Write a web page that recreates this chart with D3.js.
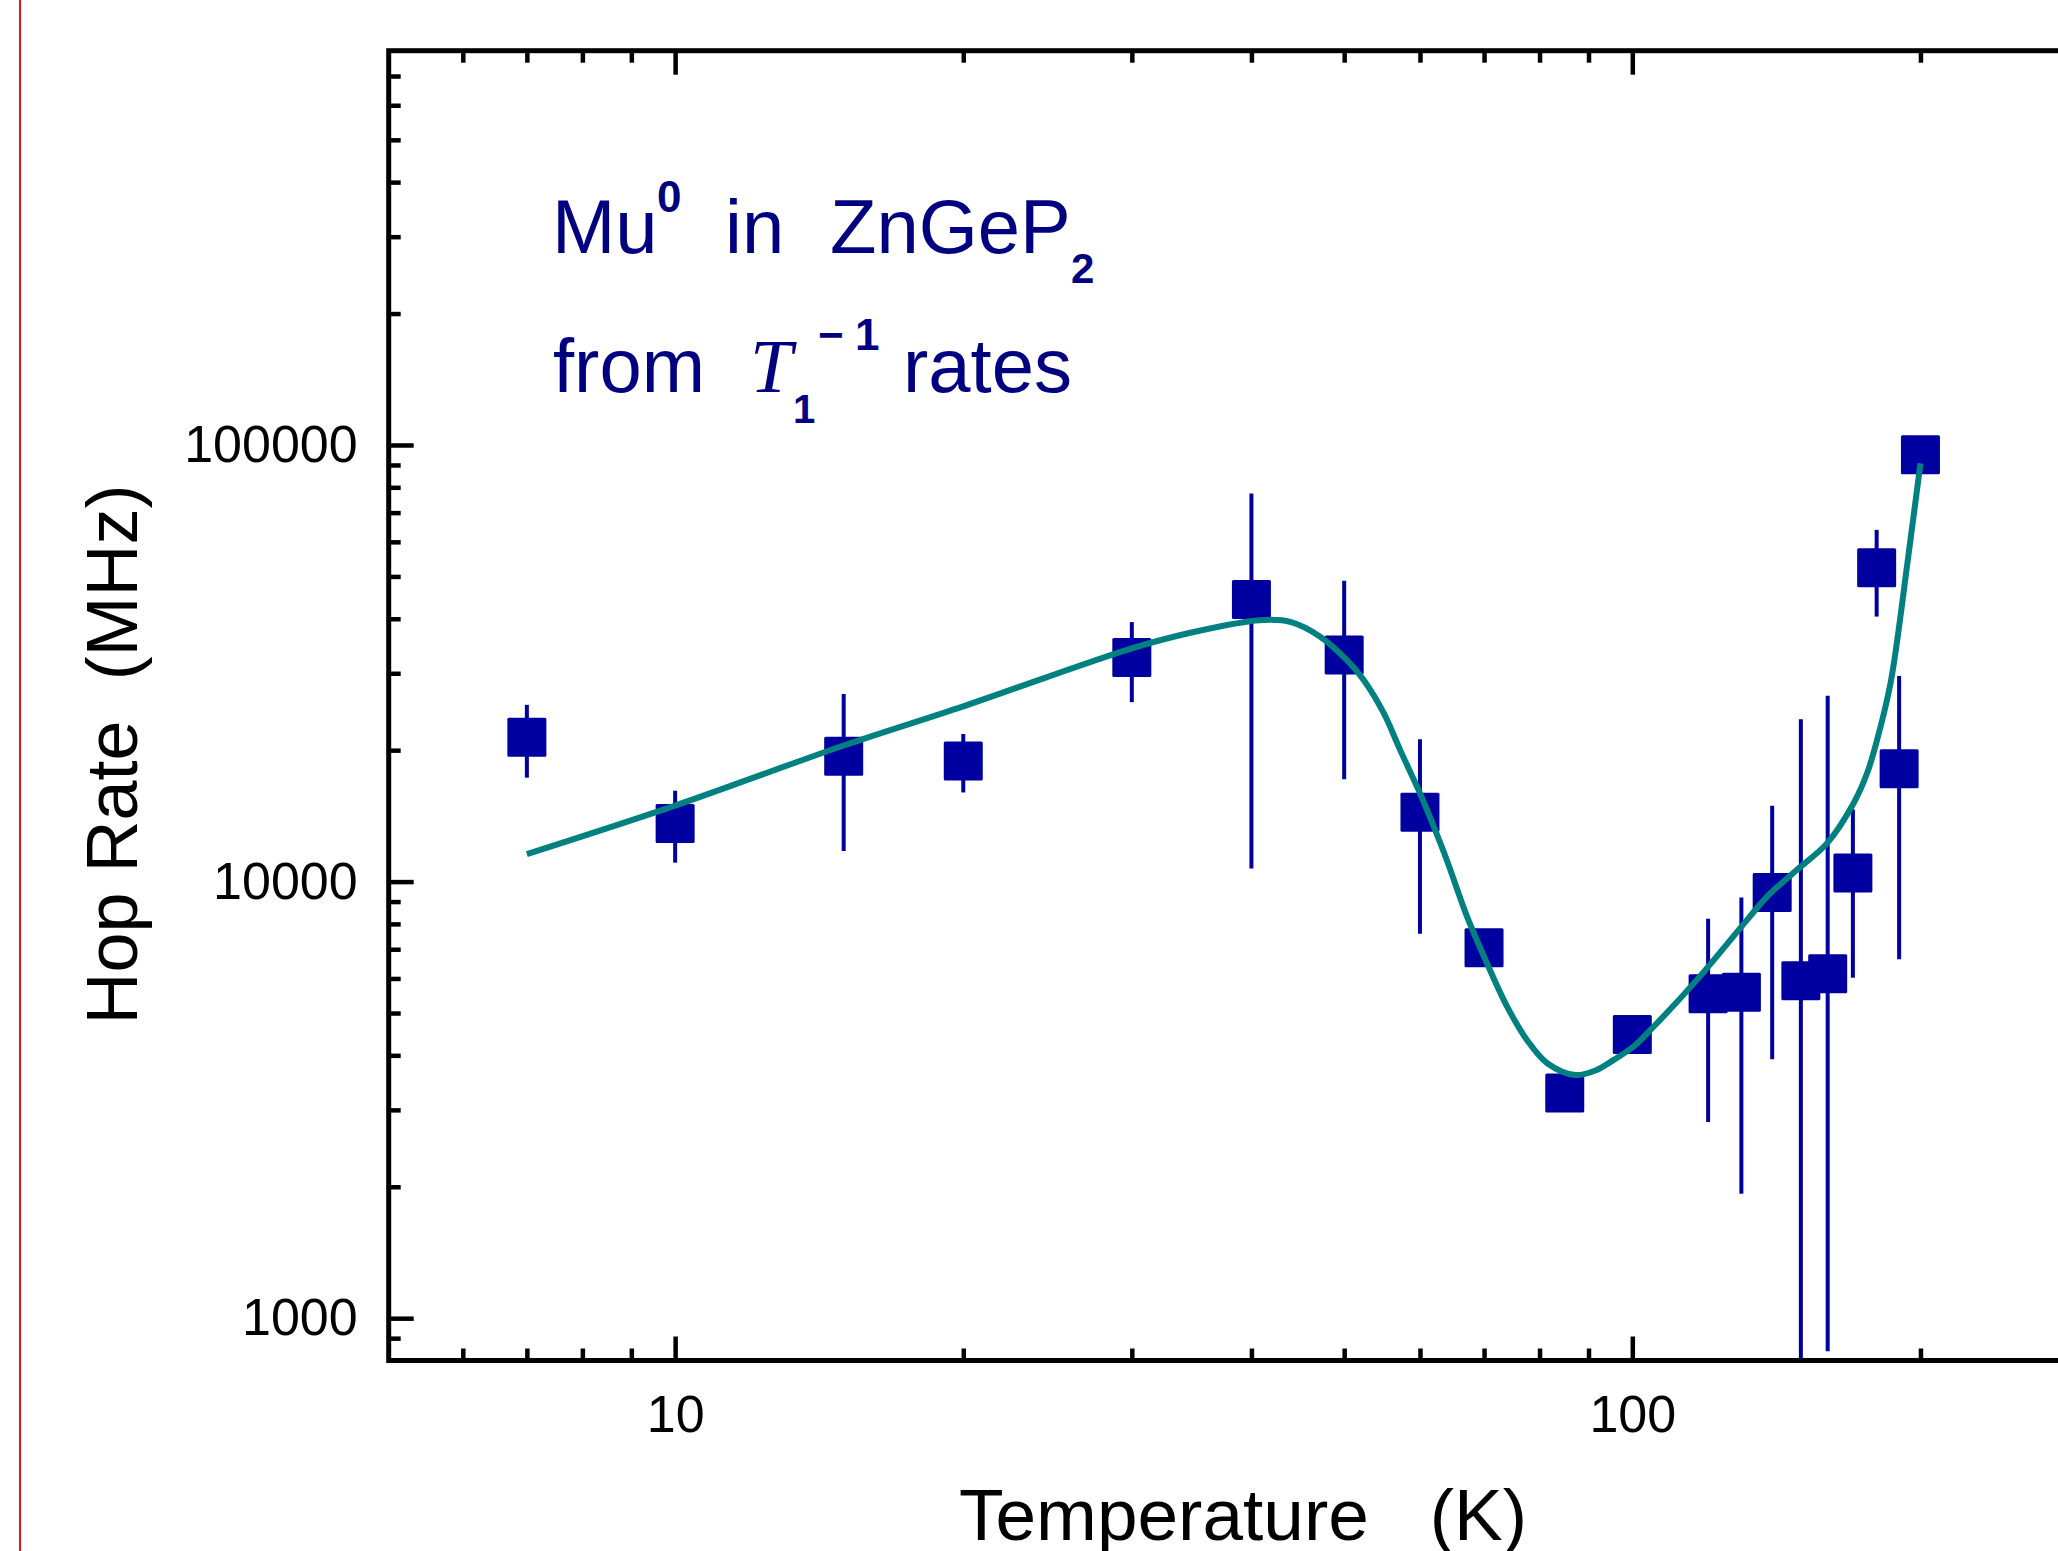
<!DOCTYPE html>
<html>
<head>
<meta charset="utf-8">
<script src="https://cdn.jsdelivr.net/npm/d3@7/dist/d3.min.js"></script>
<style>
  html, body { margin: 0; padding: 0; background: #fff; }
  svg { display: block; }
  text { font-family: "Liberation Sans", Arial, sans-serif; }
</style>
</head>
<body>
<svg id="chart" width="2058" height="1551"></svg>
<script>
// Muonium hop rate in ZnGeP2 versus temperature (from T1^-1 relaxation rates)
const temperatures = [7, 10, 15, 20, 30, 40, 50, 60, 70, 85, 100, 120, 130, 140, 150, 160, 170, 180, 190, 200];
const hopRate      = [21400, 13590, 19370, 18880, 32600, 44260, 33040, 14410, 7050, 3280, 4467, 5532, 5576, 9440, 5930, 6150, 10460, 52360, 18140, 95020];
const rateHigh     = [25400, 16150, 26900, 21780, 39300, 77400, 48870, 21190, 7400, 3450, 4700, 8215, 9200, 14910, 23550, 26630, 14620, 63900, 29580, 95020];
const rateLow      = [17300, 11050, 11750, 16000, 25760, 10710, 17160, 7600, 6700, 3120, 4250, 2816, 1927, 3918, 800, 840, 6020, 40460, 6640, 95020];

// Model curve through the data
const fitT    = [7, 10, 15, 20, 30, 35, 40.8, 44, 47.2, 50.3, 52.4, 55, 57.2, 60, 62, 64, 67.2, 70.5, 74, 77.6, 81.5, 87.2, 91.8, 95.6, 100.3, 105.3, 116.8, 131.8, 138.3, 148.6, 159.8, 170.3, 175.9, 180.2, 186.1, 190.6, 193.6, 196.7, 200];
const fitRate = [11560, 14930, 20500, 25200, 34230, 37400, 39700, 39300, 36390, 32190, 28970, 24310, 20030, 15940, 13400, 11210, 8314, 6500, 5172, 4339, 3837, 3605, 3705, 3905, 4190, 4656, 5955, 8170, 9240, 10640, 12250, 15120, 17700, 21120, 28470, 40460, 52660, 68550, 90780];

// Axis ticks
const xMajorTicks = [10, 100];
const xMinorTicks = [6, 7, 8, 9, 20, 30, 40, 50, 60, 70, 80, 90, 200];
const yMajorTicks = [1000, 10000, 100000];
const yMinorTicks = [900, 2000, 3000, 4000, 5000, 6000, 7000, 8000, 9000,
                     20000, 30000, 40000, 50000, 60000, 70000, 80000, 90000,
                     200000, 300000, 400000, 500000, 600000, 700000];

const svg = d3.select("#chart");

const plotLeft = 387, plotRight = 2089, plotTop = 50.7, plotBottom = 1360.5;
const x = d3.scaleLog().domain([5, 300]).range([plotLeft, plotRight]);
const y = d3.scaleLog().domain([800, 800000]).range([plotBottom, plotTop]);

const markColor = "#0000a0";
const textColor = "#000080";

// thin red margin rule at the page edge
svg.append("line")
  .attr("x1", 20).attr("x2", 20).attr("y1", 0).attr("y2", 1551)
  .attr("stroke", "#e4151d").attr("stroke-width", 2);

// error bars
const pts = temperatures.map((t, i) => ({ t, v: hopRate[i], lo: rateLow[i], hi: rateHigh[i] }));
const plot = svg.append("g");
plot.selectAll("line.err").data(pts).join("line")
  .attr("class", "err")
  .attr("x1", d => x(d.t)).attr("x2", d => x(d.t))
  .attr("y1", d => y(Math.max(d.lo, 800))).attr("y2", d => y(d.hi))
  .attr("stroke", markColor).attr("stroke-width", 4);

// square markers
const half = 19.5;
plot.selectAll("rect.pt").data(pts).join("rect")
  .attr("class", "pt")
  .attr("x", d => x(d.t) - half).attr("y", d => y(d.v) - half)
  .attr("width", 2 * half).attr("height", 2 * half)
  .attr("rx", 1.5)
  .attr("fill", markColor);

// fitted curve
const fit = fitT.map((t, i) => ({ t, v: fitRate[i] }));
plot.append("path")
  .datum(fit)
  .attr("d", d3.line().x(d => x(d.t)).y(d => y(d.v)).curve(d3.curveCatmullRom.alpha(0.5)))
  .attr("fill", "none")
  .attr("stroke", "#008080")
  .attr("stroke-width", 6)
  .attr("stroke-linejoin", "round");

// axes
const tickStroke = 4.5;
function styleAxis(g) {
  g.select(".domain").remove();
  g.selectAll(".tick line").attr("stroke", "#000").attr("stroke-width", tickStroke);
  g.selectAll(".tick text").attr("fill", "#000").style("font-size", "52px")
    .style("font-family", "'Liberation Sans', Arial, sans-serif");
}

const axisX = plotLeft + 1.7;
// bottom
svg.append("g").attr("transform", `translate(0,${plotBottom})`)
  .call(d3.axisBottom(x).tickValues(xMajorTicks).tickFormat(d3.format("d"))
    .tickSizeInner(-24).tickSizeOuter(0).tickPadding(35))
  .call(styleAxis);
svg.append("g").attr("transform", `translate(0,${plotBottom})`)
  .call(d3.axisBottom(x).tickValues(xMinorTicks).tickFormat("")
    .tickSizeInner(-12).tickSizeOuter(0))
  .call(styleAxis);
// top
svg.append("g").attr("transform", `translate(0,${plotTop})`)
  .call(d3.axisTop(x).tickValues(xMajorTicks).tickFormat("")
    .tickSizeInner(-24).tickSizeOuter(0))
  .call(styleAxis);
svg.append("g").attr("transform", `translate(0,${plotTop})`)
  .call(d3.axisTop(x).tickValues(xMinorTicks).tickFormat("")
    .tickSizeInner(-12).tickSizeOuter(0))
  .call(styleAxis);
// left
svg.append("g").attr("transform", `translate(${axisX},0)`)
  .call(d3.axisLeft(y).tickValues(yMajorTicks).tickFormat(d3.format("d"))
    .tickSizeInner(-25).tickSizeOuter(0).tickPadding(31))
  .call(styleAxis);
svg.append("g").attr("transform", `translate(${axisX},0)`)
  .call(d3.axisLeft(y).tickValues(yMinorTicks).tickFormat("")
    .tickSizeInner(-12).tickSizeOuter(0))
  .call(styleAxis);
// right
svg.append("g").attr("transform", `translate(${plotRight},0)`)
  .call(d3.axisRight(y).tickValues(yMajorTicks).tickFormat("")
    .tickSizeInner(-25).tickSizeOuter(0))
  .call(styleAxis);

// frame
svg.append("rect")
  .attr("x", axisX).attr("y", plotTop)
  .attr("width", plotRight - axisX).attr("height", plotBottom - plotTop)
  .attr("fill", "none").attr("stroke", "#000").attr("stroke-width", 5);

// axis titles
svg.append("text")
  .attr("x", 1243).attr("y", 1540)
  .attr("text-anchor", "middle")
  .style("font-size", "73px").style("white-space", "pre")
  .attr("fill", "#000")
  .text("Temperature   (K)");

svg.append("text")
  .attr("transform", "translate(137,754.5) rotate(-90)")
  .attr("text-anchor", "middle")
  .style("font-size", "72px").style("white-space", "pre")
  .attr("fill", "#000")
  .text("Hop Rate  (MHz)");

// annotation
const ann = svg.append("g").attr("fill", textColor);
function put(txt, px, py, size, opts = {}) {
  const t = ann.append("text").attr("x", px).attr("y", py)
    .style("font-size", size + "px").text(txt);
  if (opts.bold) t.style("font-weight", "bold");
  if (opts.serifItalic) t.style("font-family", "'Liberation Serif', 'Times New Roman', serif").style("font-style", "italic");
  return t;
}
put("Mu", 552, 253.3, 76);
put("0", 657, 211.7, 44, { bold: true });
put("in", 725, 253.3, 76);
put("ZnGeP", 830, 253.3, 76);
put("2", 1071, 283, 42, { bold: true });

put("from", 553, 391.7, 76);
put("T", 750, 391.7, 76, { serifItalic: true });
put("1", 793, 423, 40, { bold: true });
put("\u2212", 818, 350, 44, { bold: true });
put("1", 855, 350, 44, { bold: true });
put("rates", 903, 391.7, 76);
</script>
</body>
</html>
